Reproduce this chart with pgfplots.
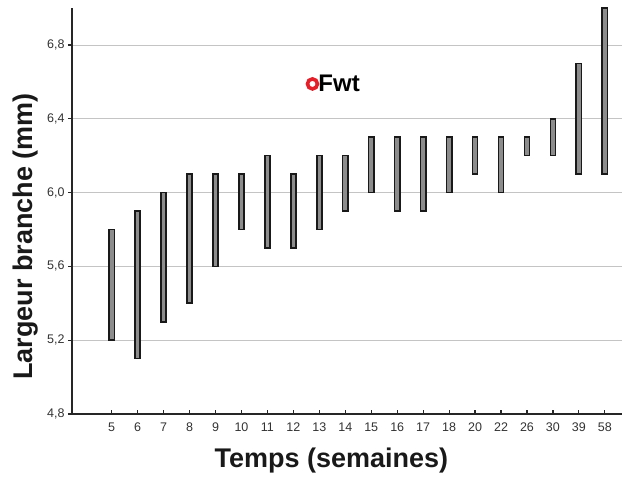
\documentclass[border=0pt]{standalone}
\usepackage{pgfplots}
\pgfplotsset{compat=1.18}
\usepackage{fontspec}
\setmainfont{Liberation Sans}
\definecolor{bargray}{HTML}{8C8C8C}
\definecolor{gridgray}{HTML}{C4C4C4}
\definecolor{tickgray}{HTML}{333333}
\definecolor{markred}{HTML}{E3202A}
\begin{document}
\begin{tikzpicture}
\begin{axis}[
  scale only axis,
  width=549.7bp, height=406bp,
  xmin=-1.53, xmax=19.65,
  ymin=4.8, ymax=7.0,
  axis lines*=left,
  axis line style={line width=1.3bp, color=black!85},
  ybar stacked,
  bar width=5.2bp,
  xtick={0,...,19},
  xticklabels={5,6,7,8,9,10,11,12,13,14,15,16,17,18,20,22,26,30,39,58},
  ytick={4.8,5.2,5.6,6.0,6.4,6.8},
  xtick align=inside,
  ytick align=outside,
  major tick length=4bp,
  every tick/.style={line width=1.2bp, black!85},
  ymajorgrids,
  grid style={gridgray, line width=0.7bp},
  yticklabel style={/pgf/number format/.cd, fixed, fixed zerofill, precision=1, use comma, assume math mode=true},
  tick label style={font=\fontsize{12.5bp}{14bp}\selectfont, color=tickgray},
  xticklabel style={yshift=-5bp},
  xlabel={\textbf{Temps (semaines)}},
  ylabel={\textbf{Largeur branche (mm)}},
  xlabel style={font=\fontsize{27bp}{30bp}\selectfont, color=black!90, at={(axis description cs:0.472,0)}, anchor=center, yshift=-47bp},
  ylabel style={font=\fontsize{27bp}{30bp}\selectfont, color=black!90, at={(axis description cs:0,0.437)}, anchor=center, yshift=46bp},
  legend style={draw=none, fill=none, at={(axis description cs:0.428,0.813)}, anchor=west,
    font=\fontsize{24bp}{26bp}\selectfont\bfseries, inner sep=0pt,
    nodes={inner sep=1bp}},
  legend image code/.code={\draw[#1] plot coordinates {(0bp,0bp)};},
]
\addlegendimage{only marks, mark=*, mark size=5bp, mark options={draw=markred, fill=white, line width=3.6bp}}
\addlegendentry{Fwt}
% lower ends (invisible)
\addplot[draw=none, fill=none] coordinates {
(0,5.2) (1,5.1) (2,5.3) (3,5.4) (4,5.6) (5,5.8) (6,5.7) (7,5.7) (8,5.8) (9,5.9)
(10,6.0) (11,5.9) (12,5.9) (13,6.0) (14,6.1) (15,6.0) (16,6.2) (17,6.2) (18,6.1) (19,6.1)};
% ranges (upper - lower)
\addplot[fill=bargray, draw=black!90, line width=1.6bp] coordinates {
(0,0.6) (1,0.8) (2,0.7) (3,0.7) (4,0.5) (5,0.3) (6,0.5) (7,0.4) (8,0.4) (9,0.3)
(10,0.3) (11,0.4) (12,0.4) (13,0.3) (14,0.2) (15,0.3) (16,0.1) (17,0.2) (18,0.6) (19,0.9)};
\coordinate (ll) at (rel axis cs:0,0);
\coordinate (ur) at (rel axis cs:1,1);
\end{axis}
\pgfresetboundingbox
\path ([shift={(-72bp,-69bp)}]ll) rectangle ([shift={(10.3bp,8bp)}]ur);
\end{tikzpicture}
\end{document}
